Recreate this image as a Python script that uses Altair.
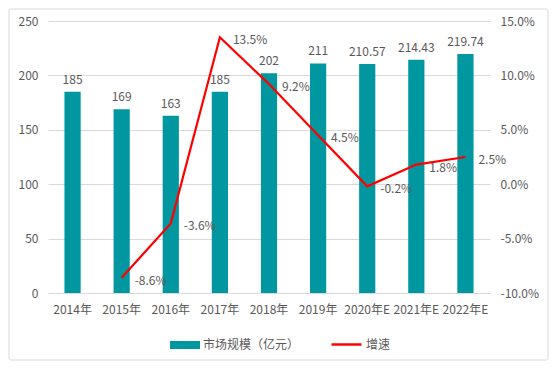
import altair as alt
import pandas as pd

years = ["2014年", "2015年", "2016年", "2017年", "2018年", "2019年", "2020年E", "2021年E", "2022年E"]
market = [185, 169, 163, 185, 202, 211, 210.57, 214.43, 219.74]
market_labels = ["185", "169", "163", "185", "202", "211", "210.57", "214.43", "219.74"]
growth_years = years[1:]
growth = [-8.6, -3.6, 13.5, 9.2, 4.5, -0.2, 1.8, 2.5]
growth_labels = ["-8.6%", "-3.6%", "13.5%", "9.2%", "4.5%", "-0.2%", "1.8%", "2.5%"]
left_ticks = [0, 50, 100, 150, 200, 250]
right_ticks = [-0.10, -0.05, 0.0, 0.05, 0.10, 0.15]

TEAL = "#0097A0"
RED = "#FF0000"
GRAY = "#595959"
FONT = "Noto Sans CJK SC"

bar_df = pd.DataFrame({"year": years, "value": market, "label": market_labels,
                       "series_bar": "市场规模（亿元）"})
line_df = pd.DataFrame({"year": growth_years, "g": [v / 100 for v in growth],
                        "label": growth_labels, "series_line": "增速"})

xenc = alt.X("year:N", sort=years,
             scale=alt.Scale(domain=years, paddingInner=0.67, paddingOuter=0.335),
             axis=alt.Axis(title=None, labelAngle=0, ticks=False, domain=False,
                           labelPadding=11, labelColor=GRAY, labelFontSize=12, grid=False))

yleft = alt.Y("value:Q", scale=alt.Scale(domain=[0, 250], nice=False),
              axis=alt.Axis(title=None, values=left_ticks, ticks=False, domain=False,
                            labelPadding=10, labelColor=GRAY, labelFontSize=12,
                            grid=True, gridColor="#D9D9D9", gridWidth=1))

bars = alt.Chart(bar_df).mark_bar(color=TEAL).encode(
    x=xenc, y=yleft,
    color=alt.Color("series_bar:N", scale=alt.Scale(domain=["市场规模（亿元）"], range=[TEAL]),
                    legend=alt.Legend(orient="none", legendX=127, legendY=314, title=None,
                                      symbolType="M-1.5,-0.4H1.5V0.4H-1.5Z", symbolSize=400,
                                      symbolStrokeWidth=0, labelColor=GRAY, labelFontSize=12,
                                      labelOffset=8, padding=0)),
)
bar_text = alt.Chart(bar_df).mark_text(baseline="bottom", dy=-5, color=GRAY, fontSize=12).encode(
    x=xenc, y=yleft, text="label:N")

yright = alt.Y("g:Q", scale=alt.Scale(domain=[-0.10, 0.15], nice=False),
               axis=alt.Axis(title=None, orient="right", values=right_ticks, ticks=False,
                             domain=False, labelPadding=10, labelColor=GRAY, labelFontSize=12,
                             grid=False,
                             labelExpr="datum.value < -0.0001 ? '-' + format(-datum.value, '.1%') : format(datum.value, '.1%')"))

line = alt.Chart(line_df).mark_line(strokeWidth=2.2).encode(
    x=xenc, y=yright,
    stroke=alt.Stroke("series_line:N", scale=alt.Scale(domain=["增速"], range=[RED]),
                      legend=alt.Legend(orient="none", legendX=282, legendY=307, title=None,
                                        symbolType="stroke", symbolSize=900,
                                        symbolStrokeWidth=2.5, labelColor=GRAY,
                                        labelFontSize=12, labelOffset=3, padding=0)),
)
line_text = alt.Chart(line_df).mark_text(align="left", baseline="middle", dx=13, dy=3,
                                         color=GRAY, fontSize=12).encode(
    x=xenc, y=yright, text="label:N")

border = alt.Chart(pd.DataFrame({"k": [0]})).mark_rect(
    fill=None, stroke="#D9D9D9", strokeWidth=1, cornerRadius=2).encode(
    x=alt.value(-39), x2=alt.value(500), y=alt.value(-12), y2=alt.value(339))

chart = alt.layer(
    alt.layer(border, bars, bar_text),
    alt.layer(line, line_text),
).resolve_scale(y="independent").properties(
    width=442, height=272,
    autosize=alt.AutoSizeParams(type="none"),
    padding={"left": 40, "top": 13, "right": 59, "bottom": 68},
).configure(font=FONT).configure_view(stroke=None)

chart.save("out.html", embed_options={"renderer": "svg", "actions": False})
